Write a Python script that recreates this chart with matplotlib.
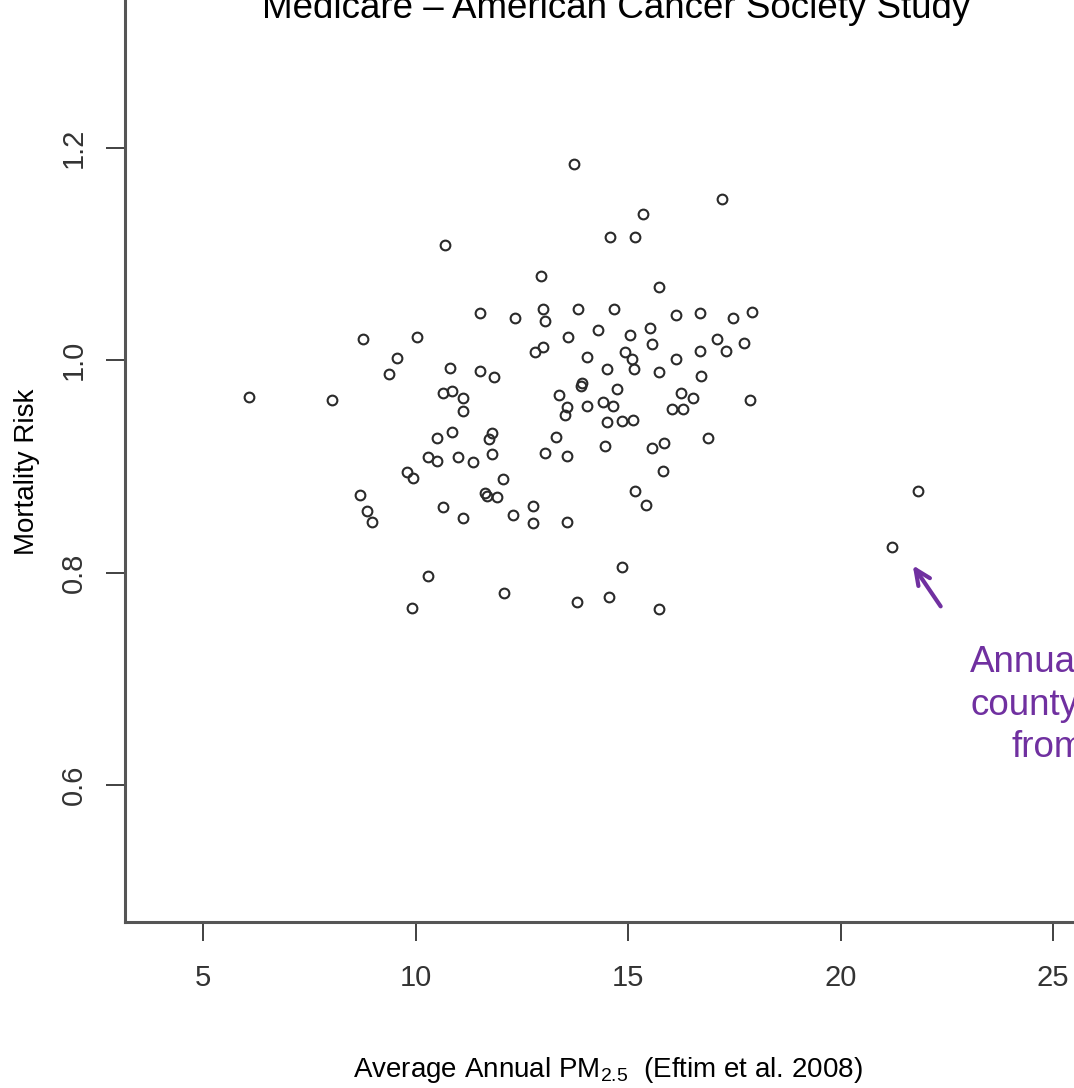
import matplotlib as mpl
mpl.use('Agg')
import matplotlib.pyplot as plt

plt.rcParams['font.family'] = ['Liberation Sans', 'DejaVu Sans']
plt.rcParams['mathtext.fontset'] = 'custom'
plt.rcParams['mathtext.rm'] = 'Liberation Sans'

# county points: average PM2.5 vs mortality risk
pm25 = [6.08, 8.04, 8.76, 9.56, 9.38, 10.04, 10.69, 11.52, 10.81, 11.52,
        11.85, 10.65, 10.86, 11.12, 11.12, 10.86, 10.51, 11.80, 11.73, 11.80,
        10.29, 10.51, 11.00, 11.35, 9.80, 9.94, 12.06, 11.64, 11.68, 11.92,
        8.69, 8.86, 8.98, 10.65, 11.12, 12.29, 12.76, 12.76, 13.56, 10.29,
        9.92, 12.08, 13.80, 14.55, 14.86, 15.73, 13.31, 13.05, 13.56, 14.46,
        15.56, 15.85, 15.82, 15.16, 15.42, 13.38, 13.89, 13.92, 14.74, 13.56,
        13.52, 14.04, 14.41, 14.65, 14.51, 14.86, 15.12, 16.04, 16.29, 16.25,
        16.53, 16.72, 15.73, 16.88, 17.87, 13.73, 17.21, 15.35, 14.58, 15.16,
        12.95, 15.73, 12.34, 13.00, 13.05, 13.82, 14.67, 16.13, 16.69, 17.47,
        17.92, 13.59, 14.29, 15.05, 15.52, 15.56, 12.81, 13.00, 14.04, 14.93,
        15.09, 15.14, 14.51, 16.13, 16.69, 17.09, 17.31, 17.73, 21.82, 21.21]
risk = [0.965, 0.962, 1.020, 1.002, 0.987, 1.022, 1.108, 1.044, 0.993, 0.990,
        0.984, 0.969, 0.971, 0.964, 0.952, 0.932, 0.927, 0.931, 0.926, 0.912,
        0.909, 0.905, 0.909, 0.904, 0.895, 0.889, 0.888, 0.875, 0.872, 0.871,
        0.873, 0.858, 0.848, 0.862, 0.851, 0.854, 0.863, 0.847, 0.848, 0.797,
        0.767, 0.781, 0.772, 0.777, 0.805, 0.766, 0.928, 0.913, 0.910, 0.919,
        0.917, 0.922, 0.896, 0.877, 0.864, 0.967, 0.976, 0.978, 0.973, 0.956,
        0.948, 0.957, 0.961, 0.957, 0.942, 0.943, 0.944, 0.954, 0.954, 0.969,
        0.964, 0.985, 0.989, 0.927, 0.962, 1.185, 1.152, 1.138, 1.116, 1.116,
        1.079, 1.069, 1.040, 1.048, 1.037, 1.048, 1.048, 1.042, 1.044, 1.040,
        1.045, 1.022, 1.028, 1.024, 1.030, 1.015, 1.008, 1.012, 1.003, 1.008,
        1.001, 0.992, 0.992, 1.001, 1.009, 1.020, 1.009, 1.016, 0.877, 0.824]

xticks = [5, 10, 15, 20, 25]
yticks = [0.6, 0.8, 1.0, 1.2]
ytick_labels = ['0.6', '0.8', '1.0', '1.2']

purple = '#7030a0'

fig = plt.figure(figsize=(10.74, 10.88), dpi=100)
ax = fig.add_axes([125 / 1074, 166 / 1088, 1 - 125 / 1074, 1 - 166 / 1088])

ax.plot(pm25, risk, 'o', ls='none', mfc='none', mec='#2a2a2a', ms=7, mew=1.5)

ax.set_xlim(3.165, 25.49)
ax.set_ylim(0.471, 1.339)
ax.set_xticks(xticks)
ax.set_yticks(yticks)
ax.set_yticklabels(ytick_labels)

for s in ['top', 'right']:
    ax.spines[s].set_visible(False)
for s in ['left', 'bottom']:
    ax.spines[s].set_color('#555555')
    ax.spines[s].set_linewidth(2.2)

ax.tick_params(axis='both', length=13.5, width=1.3, color='#333333',
               labelsize=21, labelcolor='#333333')
ax.tick_params(axis='x', pad=17)
ax.tick_params(axis='y', pad=13, labelrotation=90)
for lab in ax.get_yticklabels():
    lab.set_va('center')

# title, partly cut off at the top like in the source
fig.text(616 / 1074, 1 - 18 / 1088, 'Medicare \u2013 American Cancer Society Study',
         ha='center', va='baseline', fontsize=26.5, color='black')

fig.text(27 / 1074, 1 - 472 / 1088, 'Mortality Risk', rotation=90,
         ha='center', va='center', fontsize=20, color='black')

fig.text(353 / 1074, 11 / 1088, 'Average Annual PM$_{2.5}$  (Eftim et al. 2008)',
         ha='left', va='baseline', fontsize=20, color='black')

# arrow pointing at the outlier county
ax.annotate('', xy=(21.66, 0.809), xytext=(22.39, 0.766),
            arrowprops=dict(arrowstyle='->,head_length=1.1,head_width=0.5',
                            color=purple, lw=3))

fig.text(970 / 1074, 1 - 672 / 1088, 'Annual', ha='left', va='baseline',
         fontsize=26.5, color=purple)
fig.text(970 / 1074, 1 - 715 / 1088, 'county', ha='left', va='baseline',
         fontsize=26.5, color=purple)
fig.text(1012 / 1074, 1 - 757 / 1088, 'from', ha='left', va='baseline',
         fontsize=26.5, color=purple)

fig.savefig('out.png', dpi=100)
